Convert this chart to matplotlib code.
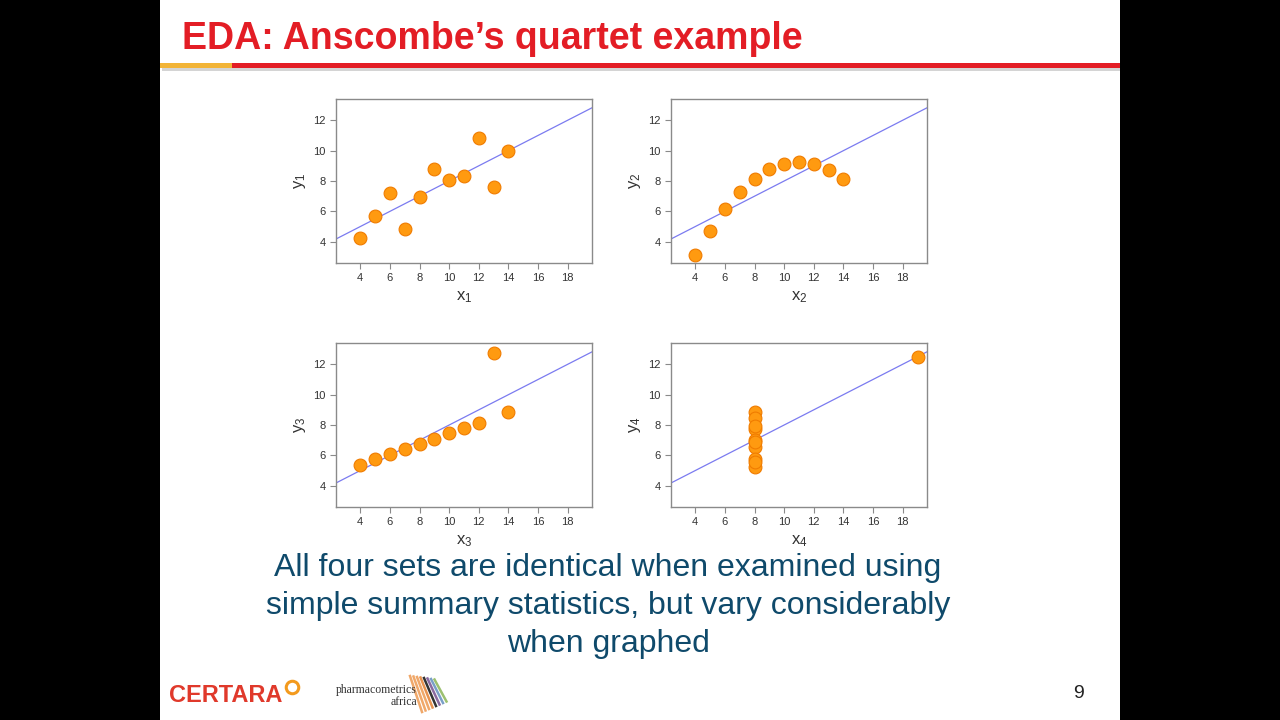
import numpy as np
import matplotlib
matplotlib.use("Agg")
import matplotlib.pyplot as plt
from matplotlib.patches import Rectangle

plt.rcParams['font.family'] = ['Liberation Sans', 'DejaVu Sans']
plt.rcParams['mathtext.default'] = 'regular'

# Anscombe's quartet
x123 = [10, 8, 13, 9, 11, 14, 6, 4, 12, 7, 5]
y1 = [8.04, 6.95, 7.58, 8.81, 8.33, 9.96, 7.24, 4.26, 10.84, 4.82, 5.68]
y2 = [9.14, 8.14, 8.74, 8.77, 9.26, 8.10, 6.13, 3.10, 9.13, 7.26, 4.74]
y3 = [7.46, 6.77, 12.74, 7.11, 7.81, 8.84, 6.08, 5.39, 8.15, 6.42, 5.73]
x4 = [8, 8, 8, 8, 8, 8, 8, 19, 8, 8, 8]
y4 = [6.58, 5.76, 7.71, 8.84, 8.47, 7.04, 5.25, 12.50, 5.56, 7.91, 6.89]

datasets = [(x123, y1), (x123, y2), (x123, y3), (x4, y4)]
x_ticks = [4, 6, 8, 10, 12, 14, 16, 18]
y_ticks = [4, 6, 8, 10, 12]

title = "EDA: Anscombe\u2019s quartet example"
caption = ("All four sets are identical when examined using\n"
           "simple summary statistics, but vary considerably\n"
           "when graphed")

W, H = 1280, 720
fig = plt.figure(figsize=(12.8, 7.2), dpi=100)
fig.patch.set_facecolor('black')

def fx(px):
    return px / W

def fy(py):
    return 1 - py / H

# slide area
fig.patches.append(Rectangle((fx(160), 0), fx(960), 1, transform=fig.transFigure,
                             facecolor='white', edgecolor='none', zorder=-2))
# title rule with shadow
fig.patches.append(Rectangle((fx(162), fy(71)), fx(958), 5 / H, transform=fig.transFigure,
                             facecolor='#b8b8b8', edgecolor='none', alpha=0.6, zorder=-1))
fig.patches.append(Rectangle((fx(232), fy(68)), fx(888), 5 / H, transform=fig.transFigure,
                             facecolor='#e31d25', edgecolor='none', zorder=-1))
fig.patches.append(Rectangle((fx(160), fy(68)), fx(72), 5 / H, transform=fig.transFigure,
                             facecolor='#f2b437', edgecolor='none', zorder=-1))

fig.text(fx(182), fy(39), title, color='#e31d25', fontsize=27, fontweight='bold',
         va='center', ha='left')

# four panels
panels = [(336, 99), (671, 99), (336, 343), (671, 343)]
pw, ph = 256, 164
for i, ((xs, ys), (left, top)) in enumerate(zip(datasets, panels)):
    ax = fig.add_axes([fx(left), fy(top + ph), pw / W, ph / H], zorder=5)
    ax.set_facecolor('white')
    slope, intercept = np.polyfit(xs, ys, 1)
    ax.axline((0, intercept), slope=slope, color='#7b7bf0', lw=0.9, zorder=1)
    ax.scatter(xs, ys, s=85, facecolor='#ff9a10', edgecolor='#f07c00', lw=0.8, zorder=2)
    ax.set_xlim(2.36, 19.64)
    ax.set_ylim(2.6, 13.4)
    ax.set_xticks(x_ticks)
    ax.set_yticks(y_ticks)
    for sp in ax.spines.values():
        sp.set_color('#8a8a8a')
        sp.set_linewidth(1.0)
    ax.tick_params(colors='#8a8a8a', labelcolor='#333333', labelsize=8, length=4,
                   width=0.8, direction='out')
    n = i + 1
    ax.set_xlabel('x$_{%d}$' % n, fontsize=12, color='#333333', labelpad=4)
    ax.set_ylabel('y$_{%d}$' % n, fontsize=12, color='#333333', labelpad=4)

fig.text(fx(608), fy(606), caption, color='#0f4a6b', fontsize=23, ha='center',
         va='center', linespacing=1.36)

# footer logos
fig.text(fx(169), fy(696), "CERTARA", color='#e0392b', fontsize=17, fontweight='bold',
         va='center', ha='left')
fig.add_artist(plt.Line2D([fx(292)], [fy(687)], transform=fig.transFigure, marker='o',
                          markersize=9, markerfacecolor='none', markeredgecolor='#f39a1e',
                          markeredgewidth=2.2, linestyle='none'))
fig.text(fx(417), fy(696), "pharmacometrics\nafrica", color='#333333', fontsize=8.5,
         family='Liberation Serif', ha='right', va='center', linespacing=0.95)
stripe_colors = ['#f0a86a', '#f0a86a', '#f0a86a', '#e89350', '#333333', '#8a6aa0', '#7aa0c8', '#9cc070']
for k, c in enumerate(stripe_colors):
    x0 = 410 + k * 3.5
    fig.add_artist(plt.Line2D([fx(x0), fx(x0 + 12)], [fy(676 + k * 0.5), fy(712 - k * 1.5)],
                              transform=fig.transFigure, color=c, lw=1.8))

fig.text(fx(1079), fy(693), "9", color='#222222', fontsize=14, ha='center', va='center')

fig.savefig('out.png', dpi=100, facecolor=fig.get_facecolor())
